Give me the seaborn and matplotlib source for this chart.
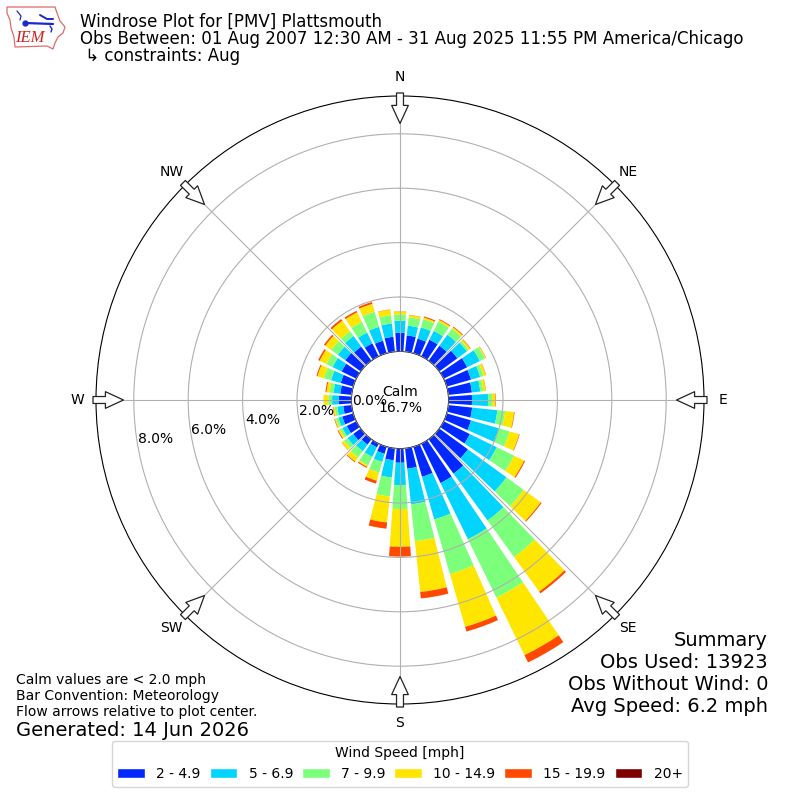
import numpy as np
import matplotlib
matplotlib.use('Agg')
import matplotlib.pyplot as plt
from matplotlib.patches import Patch, Polygon
import seaborn as sns

# percent of observations per 10 degree direction bin, starting at north, clockwise
directions = list(range(0, 360, 10))
speed_2_5 = [.69, .60, .56, .68, .68, .82, .96, .93, .87, .86, .88, .93, 1.07, 1.30, 1.56, 1.61, 1.15, .75,
             .52, .44, .27, .15, .24, .34, .39, .42, .31, .46, .42, .48, .60, .70, .64, .53, .48, .55]
speed_5_7 = [.44, .36, .43, .36, .50, .43, .52, .35, .31, .59, .93, 1.06, 1.10, 1.75, 2.13, 2.30, 1.63, 1.32,
             .82, .64, .31, .39, .30, .26, .18, .15, .22, .25, .25, .37, .37, .34, .48, .44, .53, .49]
speed_7_10 = [.23, .31, .31, .38, .27, .09, .21, .13, .11, .15, .29, .41, .71, .79, 1.66, 2.39, 2.09, 1.36,
              .88, .70, .41, .35, .28, .15, .10, .09, .10, .14, .14, .27, .25, .30, .22, .44, .58, .31]
speed_10_15 = [.10, .08, .07, .07, .07, .07, .04, .09, .09, .11, .33, .37, .41, .77, 1.57, 2.35, 2.02, 1.88,
               1.39, .96, .31, .06, .19, .11, .07, .05, .05, .18, .12, .25, .28, .27, .48, .39, .30, .20]
speed_15_20 = [.01, .01, .04, .03, .03, .02, .01, .01, .01, .02, .02, .02, .04, .04, .08, .30, .18, .24,
               .36, .23, .11, .04, .03, .01, .03, .02, .02, 0, .04, .04, .06, .06, .07, .06, .07, .01]
speed_20_up = [0] * 36

speed_labels = ['2 - 4.9', '5 - 6.9', '7 - 9.9', '10 - 14.9', '15 - 19.9', '20+']
speed_colors = ['#0028ff', '#00d4ff', '#7cff7a', '#ffe600', '#ff4800', '#800000']
ring_ticks = [0, 2, 4, 6, 8]
compass_angles = [0, 45, 90, 135, 180, 225, 270, 315]
compass_labels = ['N', 'NE', 'E', 'SE', 'S', 'SW', 'W', 'NW']

sns.set_style('ticks')
plt.rcParams['font.family'] = ['DejaVu Sans']
plt.rcParams['text.color'] = 'black'
plt.rcParams['xtick.color'] = 'black'
plt.rcParams['ytick.color'] = 'black'
plt.rcParams['axes.edgecolor'] = 'black'

fig = plt.figure(figsize=(8, 8), dpi=100)
ax = fig.add_axes([96 / 800, 96 / 800, 608 / 800, 608 / 800], projection='polar')
ax.set_theta_zero_location('N')
ax.set_theta_direction(-1)

# stack the speed classes, each one starts where the last ended
theta = np.radians(directions)
bottom = np.zeros(36)
series = [speed_2_5, speed_5_7, speed_7_10, speed_10_15, speed_15_20, speed_20_up]
for values, color in zip(series, speed_colors):
    sns.barplot(x=theta, y=values, native_scale=True, width=0.8, color=color, saturation=1,
                errorbar=None, bottom=bottom, linewidth=0, ax=ax)
    bottom = bottom + np.array(values)

ax.set_xlabel('')
ax.set_ylabel('')
ax.set_rorigin(-1.787)
ax.set_rlim(0, 9.39)
ax.set_xlim(0, 2 * np.pi)
ax.set_rgrids(ring_ticks, labels=[f'{t:.1f}%' for t in ring_ticks], fontsize=10)
ax.set_rlabel_position(260)
ax.set_thetagrids(compass_angles, labels=compass_labels, fontsize=10)
ax.tick_params(axis='x', pad=3)
ax.grid(True, color='#b0b0b0', linewidth=0.8)
ax.set_axisbelow(False)

# flow arrows around the rim
for angle in compass_angles:
    ax.annotate('', xy=(np.radians(angle), 8.38), xytext=(np.radians(angle), 9.5),
                arrowprops=dict(width=5, headwidth=12, headlength=13, facecolor='white',
                                edgecolor='#222222', linewidth=0.9, shrink=0),
                annotation_clip=False, zorder=6)

ax.text(0.5, 0.5, 'Calm\n16.7%', transform=ax.transAxes, ha='center', va='center', fontsize=10)

fig.text(80 / 800, 1 - 13 / 800, 'Windrose Plot for [PMV] Plattsmouth\n'
         'Obs Between: 01 Aug 2007 12:30 AM - 31 Aug 2025 11:55 PM America/Chicago\n'
         ' \u21b3 constraints: Aug', fontsize=12, va='top', ha='left', linespacing=0.93)

fig.text(16 / 800, 1 - 696 / 800, 'Calm values are < 2.0 mph\nBar Convention: Meteorology\n'
         'Flow arrows relative to plot center.', fontsize=10, va='center', ha='left')
fig.text(16 / 800, 1 - 730 / 800, 'Generated: 14 Jun 2026', fontsize=14, va='center', ha='left')
fig.text(768 / 800, 1 - 674 / 800, 'Summary\nObs Used: 13923\nObs Without Wind: 0\nAvg Speed: 6.2 mph',
         fontsize=14, va='center', ha='right', multialignment='right')

handles = [Patch(facecolor=c, label=l) for c, l in zip(speed_colors, speed_labels)]
fig.legend(handles=handles, title='Wind Speed [mph]', ncol=6, fontsize=10, title_fontsize=10,
           columnspacing=0.65, loc='lower center', bbox_to_anchor=(0.5, 0.008), frameon=True,
           edgecolor='#cccccc')

# little IEM logo, drawn in pixel space of its own axes
logo = fig.add_axes([0, 1 - 52 / 800, 70 / 800, 52 / 800])
logo.set_xlim(0, 70)
logo.set_ylim(52, 0)
logo.axis('off')
outline = np.array([(7, 7), (55, 7), (57, 13), (60, 21), (65, 27), (63, 33), (58, 37), (55, 43), (53, 49),
                    (47, 46), (15, 47), (14, 37), (11, 28), (10, 20), (7, 13)])
logo.add_patch(Polygon(outline, closed=True, fill=False, edgecolor='#e06a6a', linewidth=0.9))
logo.plot([25, 53], [23, 24], color='#1a28d0', linewidth=1.6)
logo.plot([25], [23], 'o', color='#1a28d0', markersize=3.5)
logo.plot([40, 47, 53], [15, 19, 19], color='#1a28d0', linewidth=1.4)
logo.plot([17, 21, 20], [11, 16, 20], color='#1a28d0', linewidth=0.9)
logo.plot([50, 52, 51], [26, 29, 32], color='#1a28d0', linewidth=1.0)
logo.text(30, 38, 'IEM', color='#d42020', fontsize=12, style='italic', family='Liberation Serif',
          ha='center', va='center')

fig.savefig('out.png', dpi=100)
